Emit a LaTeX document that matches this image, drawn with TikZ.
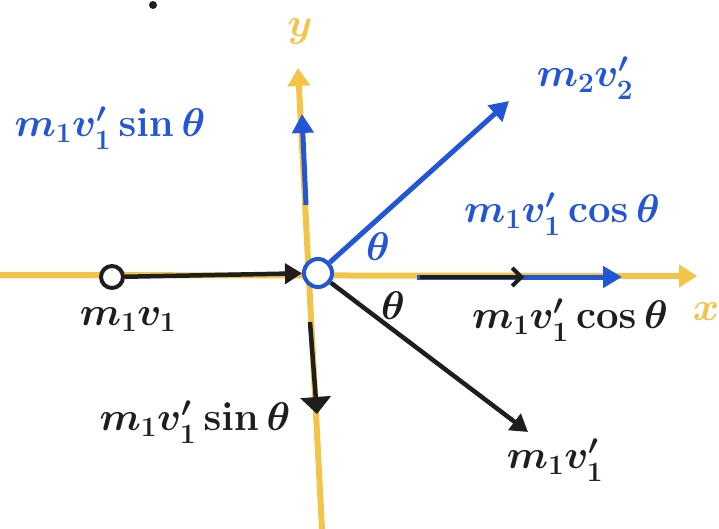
\RequirePackage{fix-cm}
\documentclass[tikz,border=0pt]{standalone}
\usetikzlibrary{arrows.meta}
\definecolor{axisyellow}{RGB}{242,196,72}
\definecolor{vecblue}{RGB}{35,85,215}
\definecolor{inkblack}{RGB}{30,30,30}
\begin{document}
\begin{tikzpicture}[x=1pt,y=-1pt,
  axis/.style={axisyellow,line width=6pt,-{Triangle[length=18pt,width=22pt]}},
  bvec/.style={vecblue,line width=5pt,-{Triangle[length=19pt,width=21pt]}},
  kvec/.style={inkblack,line width=4.5pt,-{Triangle[length=17pt,width=20pt]}},
  lbl/.style={font=\fontsize{40}{44}\selectfont\boldmath},
  ball/.style={circle,line width=4pt,fill=white,inner sep=0pt}]
\useasboundingbox (0,0) rectangle (719,529);
% axes
\coordinate (xl) at (0,275);
\coordinate (xr) at (697,276);
\coordinate (yb) at (322,529);
\coordinate (yt) at (298,68);
\draw[axis] (xl) -- (xr);
\draw[axis] (yb) -- (yt);
\node[axisyellow,lbl] (ylab) at (300,32) {$y$};
\node[axisyellow,lbl] (xlab) at (706,312) {$x$};
% masses
\node[ball,draw=inkblack,minimum size=22pt] (m1) at (112,277) {};
\node[ball,draw=vecblue,minimum size=28pt] (c) at (318,273) {};
% end points
\coordinate (up0) at (306,205);
\coordinate (up1) at (302,114);
\coordinate (v2t) at (509,101);
\coordinate (bx0) at (417,277);
\coordinate (bx1) at (622,277);
\coordinate (kx0) at (420,277);
\coordinate (kx1) at (524,277);
\coordinate (dn0) at (310,322);
\coordinate (dn1) at (317,414);
\coordinate (v1t) at (528,432);
% vectors
\draw[kvec] (m1) -- (c);
\draw[bvec] (up0) -- (up1);
\draw[bvec] (c) -- (v2t);
\draw[bvec] (bx0) -- (bx1);
\draw[inkblack,line width=4.5pt,-{Straight Barb[length=9pt,width=18pt,line width=4pt]}] (kx0) -- (kx1);
\draw[kvec,-{Triangle[length=17pt,width=30pt]}] (dn0) -- (dn1);
\draw[kvec] (c) -- (v1t);
% labels
\node[vecblue,lbl] (bsin) at (110,128) {$m_1v_1'\sin\theta$};
\node[vecblue,lbl] (v2lab) at (585,78) {$m_2v_2'$};
\node[vecblue,lbl] (bcos) at (562,214) {$m_1v_1'\cos\theta$};
\node[vecblue,lbl] (th1) at (378,247) {$\theta$};
\node[inkblack,lbl] (th2) at (393,306) {$\theta$};
\node[inkblack,lbl] (kcos) at (570,320) {$m_1v_1'\cos\theta$};
\node[inkblack,lbl] (m1lab) at (128,320) {$m_1v_1$};
\node[inkblack,lbl] (ksin) at (195,422) {$m_1v_1'\sin\theta$};
\node[inkblack,lbl] (v1lab) at (555,460) {$m_1v_1'$};
\fill[inkblack] (153,5) circle (4);
\end{tikzpicture}
\end{document}
